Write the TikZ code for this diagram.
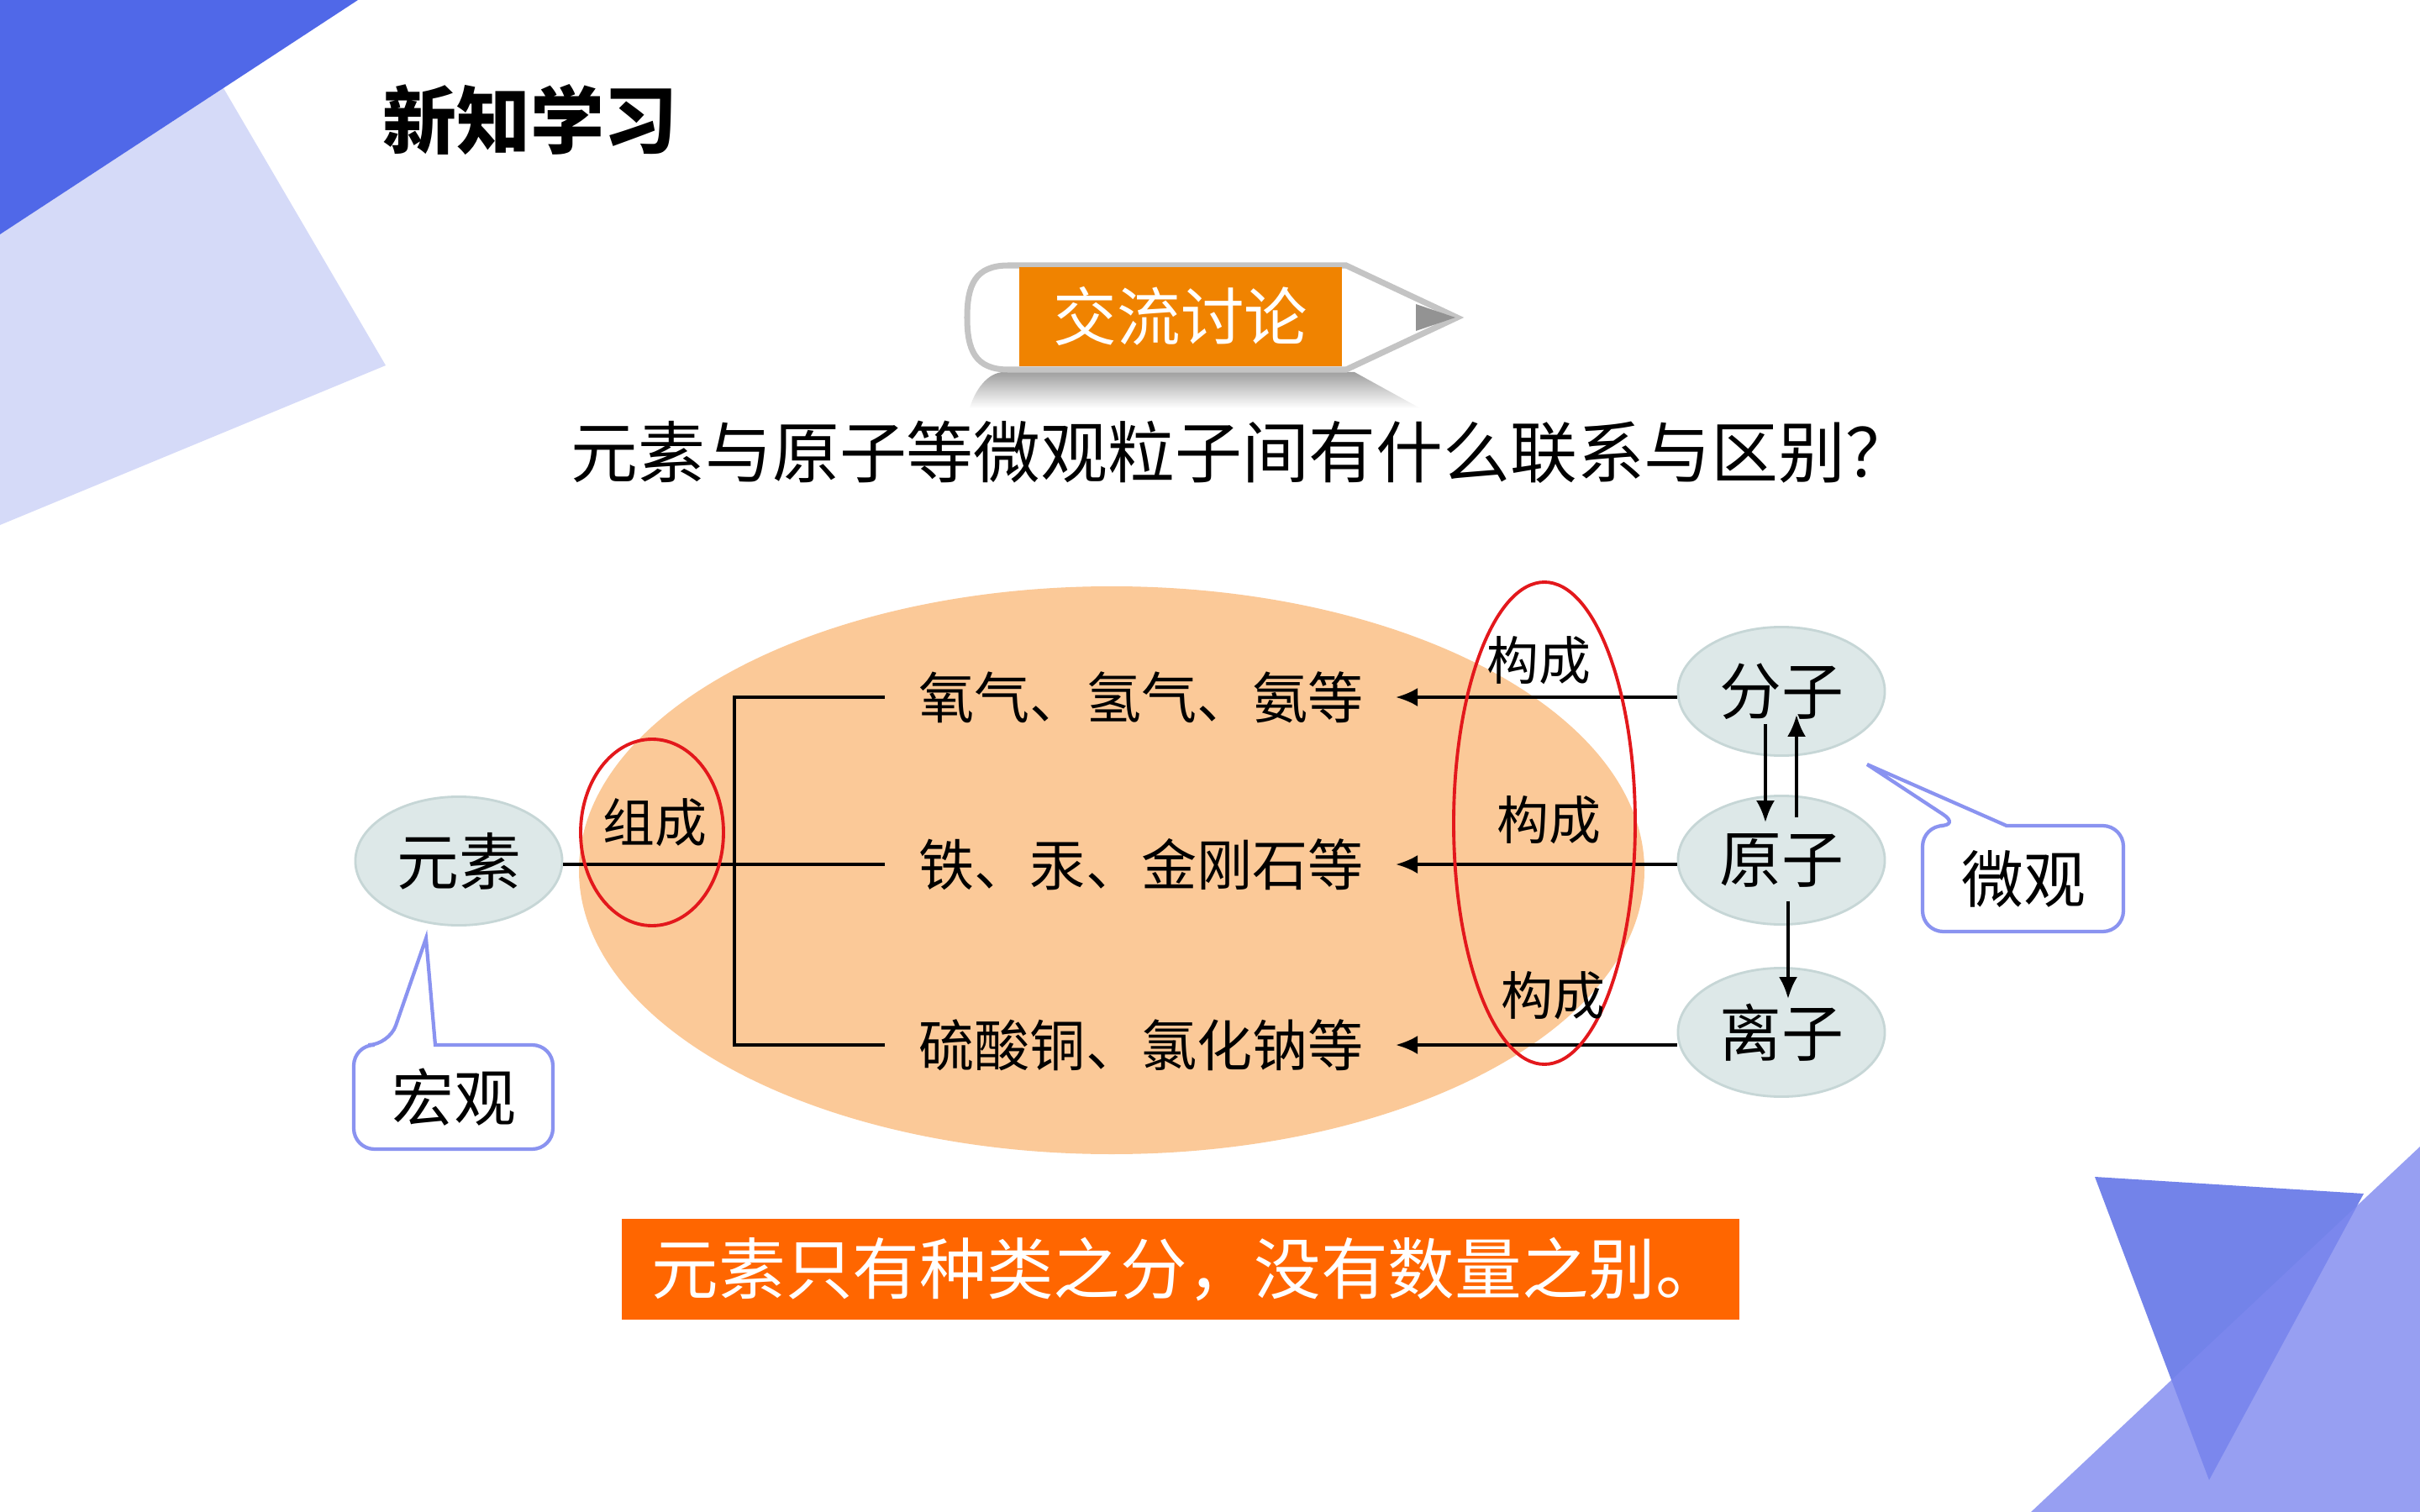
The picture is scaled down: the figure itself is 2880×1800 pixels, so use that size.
\documentclass[tikz,border=0pt]{standalone}
\usepackage{fontspec}
\setmainfont{Noto Sans CJK SC}
\usetikzlibrary{arrows.meta, shapes.geometric}
\definecolor{deepblue}{HTML}{5068E8}
\definecolor{paleblue}{HTML}{D5DAF8}
\definecolor{midblue}{HTML}{7383E9}
\definecolor{softblue}{HTML}{7D88EF}
\definecolor{peach}{HTML}{FBC998}
\definecolor{nodefill}{HTML}{DDE8E8}
\definecolor{nodeline}{HTML}{C6D6D6}
\definecolor{ringred}{HTML}{E3181C}
\definecolor{callblue}{HTML}{8A93F0}
\definecolor{hotorange}{HTML}{FF6600}
\definecolor{pencilorange}{HTML}{F08300}
\definecolor{pencilgray}{HTML}{C4C4C4}

\begin{document}
\begin{tikzpicture}[x=0.01cm, y=-0.01cm, >={Latex[length=2.6mm, width=2.2mm]},
  particle/.style={ellipse, fill=nodefill, draw=nodeline, line width=0.8pt,
    minimum width=2.46cm, minimum height=1.53cm, inner sep=0pt,
    font=\fontsize{21}{25}\selectfont},
  item/.style={font=\fontsize{18.8}{22}\selectfont, inner sep=0pt, anchor=west},
  verb/.style={font=\fontsize{17.6}{21}\selectfont, inner sep=0pt},
  ring/.style={ringred, line width=1.1pt},
  link/.style={line width=1.1pt},
  callbox/.style={draw=callblue, fill=white, line width=1.2pt},
  calltext/.style={font=\fontsize{21}{25}\selectfont, inner sep=0pt}]

% Background
\fill[white] (0,0) rectangle (2880,1800);
\useasboundingbox (0,0) rectangle (2880,1800);

% Corner decorations
\fill[paleblue] (266,105) -- (459,435) -- (0,625) -- (0,279) -- cycle;
\fill[deepblue] (0,0) -- (426,0) -- (0,279) -- cycle;
\fill[midblue] (2493,1401) -- (2813,1421) -- (2629,1762) -- cycle;
\fill[softblue, opacity=0.8] (2880,1365) -- (2880,1800) -- (2417,1800) -- cycle;

% Title
\node[font=\bfseries\fontsize{25}{30}\selectfont] (title) at (631,143) {新知学习};

% ================================================================
% Pencil banner
% ================================================================
\shade[top color=gray!75, bottom color=white]
  (1195,443) -- (1612,443) -- (1690,486) -- (1154,486)
  .. controls (1160,465) and (1175,443) .. (1195,443) -- cycle;
\draw[pencilgray, fill=white, line width=2pt]
  (1602,316) -- (1200,316) .. controls (1160,316) and (1151,340) .. (1151,378)
  .. controls (1151,416) and (1160,440) .. (1200,440) -- (1602,440)
  -- (1734,378) -- cycle;
\fill[gray!85] (1685,362) -- (1732,378) -- (1685,394) -- cycle;
\node[fill=pencilorange, text=white, minimum width=3.83cm, minimum height=1.18cm,
      inner sep=0pt, font=\fontsize{21.5}{26}\selectfont] (topic) at (1405,377) {交流讨论};

% Question
\node[font=\fontsize{22.7}{27}\selectfont] (question) at (1478,538)
  {元素与原子等微观粒子间有什么联系与区别？};

% ================================================================
% Diagram
% ================================================================
\fill[peach] (1323,1036) ellipse [x radius=634, y radius=338];

\node[particle] (yuansu) at (546,1025) {元素};
\node[particle] (fenzi) at (2120,823) {分子};
\node[particle] (yuanzi) at (2120,1024) {原子};
\node[particle] (lizi) at (2120,1229) {离子};

\node[item] (gas) at (1093,830) {氧气、氢气、氨等};
\node[item] (metal) at (1093,1029) {铁、汞、金刚石等};
\node[item] (salt) at (1093,1244) {硫酸铜、氯化钠等};

% bracket from the element
\coordinate (fork) at (874,0);
\coordinate (tips) at (1661,0);
\draw[link] (yuansu.east |- metal.west) -- ([xshift=-0.4cm]metal.west);
\draw[link] ([xshift=-0.4cm]gas.west) -| (fork |- salt.west)
  -- ([xshift=-0.4cm]salt.west);

\draw[ring] (776,991) ellipse [x radius=85, y radius=111];
\node[verb] (zucheng) at (779,979) {组成};

% particles build substances
\draw[link, ->] (fenzi.west |- gas.east) -- (tips |- gas.east);
\draw[link, ->] (yuanzi.west |- metal.east) -- (tips |- metal.east);
\draw[link, ->] (lizi.west |- salt.east) -- (tips |- salt.east);

\draw[ring] (1838,980) ellipse [x radius=108, y radius=287];
\node[verb] (goucheng1) at (1831,786) {构成};
\node[verb] (goucheng2) at (1843,976) {构成};
\node[verb] (goucheng3) at (1848,1185) {构成};

% between particles
\draw[link, ->] ([xshift=-0.19cm, yshift=0.39cm]fenzi.south)
  -- ([xshift=-0.19cm, yshift=-0.33cm]yuanzi.north);
\draw[link, ->] ([xshift=0.18cm, yshift=-0.27cm]yuanzi.north)
  -- ([xshift=0.18cm, yshift=0.5cm]fenzi.south);
\draw[link, ->] ([xshift=0.08cm, yshift=0.29cm]yuanzi.south)
  -- ([xshift=0.08cm, yshift=-0.38cm]lizi.north);

% ================================================================
% Callouts
% ================================================================
\coordinate (hgtip) at (507,1117);
\draw[callbox] (hgtip) -- (518,1244) [rounded corners=7pt] -- (658,1244)
  -- (658,1368) -- (421,1368) -- (421,1244) -- (463,1244) [sharp corners] -- cycle;
\node[calltext] (hongguan) at (540,1306) {宏观};

\coordinate (wgtip) at (2222,910);
\draw[callbox] (wgtip) -- (2388,983) [rounded corners=7pt] -- (2527,983)
  -- (2527,1109) -- (2288,1109) -- (2288,983) -- (2333,983) [sharp corners] -- cycle;
\node[calltext] (weiguan) at (2408,1047) {微观};

% Summary
\node[fill=hotorange, minimum width=13.3cm, minimum height=1.19cm, inner sep=0pt]
  (summary) at (1405,1511) {};
\node[text=white, inner sep=0pt, font=\fontsize{22.65}{27}\selectfont]
  (summarytext) at (1413,1511) {元素只有种类之分，没有数量之别。};

\end{tikzpicture}
\end{document}
